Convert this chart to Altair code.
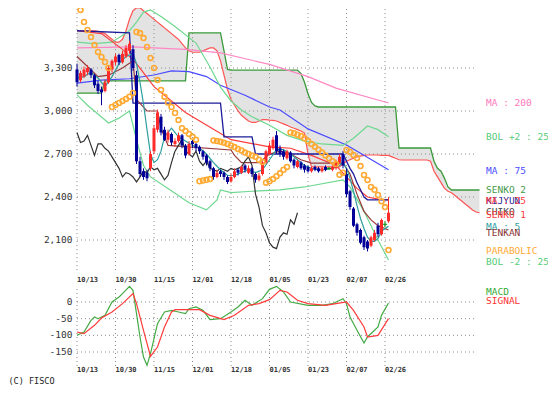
import altair as alt
import pandas as pd

# ---------------- data (index = trading day, 0 = 10/13) ----------------
date_idx = [0, 11, 22, 33, 44, 55, 66, 77, 88]
date_lbl = ["10/13", "10/30", "11/15", "12/01", "12/18", "01/05", "01/23", "02/07", "02/26"]

price_ticks = [3300, 3000, 2700, 2400, 2100]
price_lbls = ["3,300", "3,000", "2,700", "2,400", "2,100"]
macd_ticks = [0, -50, -100, -150]
macd_lbls = ["0", "-50", "-100", "-150"]

opens = [3290, 3215, 3240, 3270, 3290, 3250, 3190, 3150, 3140, 3200,
         3290, 3340, 3390, 3340, 3380, 3420, 3430, 3250, 2650, 2580,
         2570, 2600, 2720, 2870, 2960, 2870, 2800, 2840, 2770, 2790,
         2830, 2760, 2700, 2790, 2770, 2750, 2720, 2690, 2650, 2600,
         2540, 2580, 2570, 2540, 2510, 2540, 2590, 2570, 2620, 2570,
         2600, 2560, 2520, 2560, 2640, 2700, 2740, 2830, 2740, 2720,
         2670, 2710, 2660, 2610, 2640, 2620, 2610, 2580, 2610, 2600,
         2580, 2610, 2600, 2590, 2600, 2640, 2700, 2560, 2440, 2320,
         2210, 2170, 2120, 2090, 2060, 2100, 2200, 2140, 2210, 2230]
closes = [3200, 3265, 3290, 3300, 3250, 3180, 3140, 3130, 3200, 3300,
          3350, 3380, 3340, 3400, 3440, 3470, 3300, 2650, 2560, 2540,
          2530, 2700, 2880, 2990, 2850, 2800, 2850, 2780, 2790, 2830,
          2760, 2690, 2770, 2770, 2740, 2720, 2680, 2640, 2600, 2540,
          2570, 2560, 2540, 2505, 2540, 2580, 2570, 2610, 2590, 2600,
          2560, 2520, 2550, 2640, 2720, 2760, 2800, 2720, 2700, 2680,
          2720, 2650, 2620, 2650, 2600, 2590, 2580, 2600, 2590, 2580,
          2600, 2590, 2600, 2610, 2650, 2680, 2620, 2420, 2330, 2200,
          2150, 2080, 2050, 2040, 2120, 2150, 2140, 2240, 2210, 2290]
highs = [3330, 3280, 3310, 3320, 3300, 3260, 3210, 3170, 3220, 3320,
         3360, 3400, 3400, 3420, 3460, 3490, 3460, 3280, 2680, 2600,
         2590, 2720, 2900, 3010, 2980, 2890, 2870, 2850, 2810, 2850,
         2840, 2770, 2790, 2800, 2780, 2760, 2730, 2700, 2660, 2610,
         2590, 2590, 2580, 2550, 2560, 2600, 2600, 2620, 2630, 2620,
         2610, 2570, 2570, 2650, 2730, 2780, 2820, 2860, 2760, 2730,
         2730, 2720, 2670, 2660, 2650, 2630, 2620, 2610, 2620, 2610,
         2610, 2620, 2610, 2620, 2660, 2700, 2720, 2600, 2450, 2330,
         2220, 2180, 2130, 2100, 2130, 2170, 2220, 2250, 2230, 2400]
lows = [3170, 3200, 3230, 3250, 3230, 3160, 3120, 3040, 3130, 3190,
        3270, 3320, 3320, 3330, 3370, 3400, 3280, 2630, 2540, 2520,
        2510, 2580, 2700, 2850, 2830, 2790, 2780, 2760, 2750, 2780,
        2740, 2670, 2690, 2740, 2720, 2700, 2660, 2620, 2580, 2520,
        2530, 2540, 2520, 2490, 2500, 2530, 2550, 2560, 2570, 2560,
        2540, 2500, 2510, 2550, 2630, 2690, 2730, 2700, 2680, 2660,
        2660, 2640, 2600, 2600, 2590, 2570, 2570, 2570, 2580, 2570,
        2570, 2580, 2590, 2580, 2590, 2630, 2600, 2400, 2310, 2190,
        2130, 2070, 2030, 2020, 2050, 2090, 2120, 2130, 2190, 2220]

# Ichimoku cloud spans (index 0..115, shifted 26 days ahead)
senko1 = [3560, 3560, 3560, 3560, 3560, 3560, 3555, 3550, 3540, 3520,
          3500, 3480, 3480, 3500, 3560, 3640, 3700, 3720, 3720, 3700,
          3680, 3660, 3640, 3620, 3600, 3580, 3560, 3540, 3520, 3500,
          3470, 3440, 3420, 3410, 3410, 3410, 3420, 3430, 3440, 3440,
          3420, 3350, 3250, 3150, 3080, 3040, 3000, 2970, 2950, 2930,
          2920, 2920, 2930, 2940, 2940, 2937, 2935, 2930, 2920, 2910,
          2900, 2888, 2880, 2870, 2860, 2846, 2700, 2610, 2610, 2610,
          2610, 2610, 2610, 2610, 2610, 2610, 2630, 2650, 2660, 2670,
          2680, 2685, 2690, 2693, 2693, 2693, 2693, 2690, 2690, 2690,
          2680, 2670, 2660, 2658, 2658, 2658, 2658, 2658, 2658, 2658,
          2658, 2650, 2580, 2540, 2500, 2460, 2440, 2430, 2410, 2390,
          2370, 2350, 2330, 2310, 2295, 2290]
senko2 = [3125, 3125, 3125, 3125, 3125, 3125, 3125, 3125, 3210, 3210,
          3210, 3210, 3210, 3210, 3210, 3210, 3210, 3210, 3210, 3210,
          3210, 3210, 3210, 3210, 3210, 3210, 3210, 3210, 3210, 3210,
          3210, 3210, 3545, 3545, 3545, 3545, 3545, 3545, 3545, 3545,
          3545, 3545, 3420, 3290, 3285, 3285, 3285, 3285, 3285, 3285,
          3285, 3285, 3285, 3285, 3285, 3285, 3285, 3285, 3285, 3285,
          3285, 3285, 3285, 3285, 3260, 3200, 3120, 3060, 3035, 3028,
          3028, 3028, 3028, 3028, 3028, 3028, 3028, 3028, 3028, 3028,
          3028, 3028, 3028, 3028, 3028, 3028, 3028, 3028, 3028, 3028,
          3028, 3028, 2742, 2742, 2742, 2742, 2742, 2742, 2742, 2742,
          2742, 2742, 2650, 2600, 2580, 2530, 2470, 2449, 2449, 2449,
          2449, 2449, 2449, 2449, 2449, 2449]

kijun_idx = [0, 15, 16, 41, 42, 50, 51, 76, 77, 78, 79, 80, 81, 82, 83, 89]
kijun_val = [3560, 3545, 3055, 3055, 2820, 2820, 2700, 2700, 2650, 2600, 2560, 2500, 2450, 2400, 2380, 2380]

tenkan_idx = [0, 6, 9, 13, 16, 17, 20, 23, 24, 26, 44, 45, 47, 52, 55, 58, 61, 64, 67, 76, 78, 80, 82, 84, 86, 89]
tenkan_val = [3380, 3240, 3250, 3300, 3350, 3080, 3000, 3000, 2880, 2760, 2728, 2690, 2640, 2640, 2700, 2720,
              2700, 2660, 2637, 2637, 2560, 2420, 2300, 2240, 2200, 2170]

ma200_idx = [0, 16, 31, 41, 55, 66, 74, 89]
ma200_val = [3440, 3447, 3430, 3405, 3325, 3240, 3160, 3056]

ma75_idx = [0, 7, 15, 22, 27, 32, 37, 41, 48, 55, 58, 66, 77, 89]
ma75_val = [3195, 3216, 3225, 3251, 3280, 3275, 3240, 3180, 3110, 3028, 3007, 2875, 2763, 2590]

ma25_idx = [0, 7, 13, 17, 22, 31, 44, 55, 61, 67, 74, 77, 80, 83, 86, 89]
ma25_val = [3560, 3540, 3430, 3330, 3170, 2990, 2800, 2750, 2740, 2690, 2620, 2540, 2460, 2400, 2385, 2380]

ma5_idx = [0, 2, 4, 6, 8, 10, 12, 14, 16, 17, 18, 19, 20, 21, 22, 23, 24, 25, 27, 29, 31, 33, 35, 37, 39,
           41, 43, 45, 47, 49, 51, 53, 55, 57, 59, 61, 63, 65, 67, 69, 71, 73, 75, 76, 77, 78, 79, 80,
           81, 82, 83, 84, 85, 86, 87, 88, 89]
ma5_val = [3230, 3240, 3270, 3230, 3170, 3240, 3330, 3380, 3400, 3330, 3200, 3050, 2870, 2700, 2640, 2660,
           2720, 2820, 2880, 2820, 2790, 2760, 2740, 2700, 2640, 2590, 2550, 2550, 2570, 2590, 2570, 2590,
           2660, 2730, 2730, 2700, 2660, 2620, 2600, 2590, 2590, 2600, 2620, 2640, 2600, 2530, 2440, 2340,
           2250, 2180, 2120, 2090, 2090, 2110, 2160, 2180, 2195]

bolu_idx = [0, 5, 10, 15, 17, 19, 21, 24, 28, 34, 38, 41, 44, 47, 50, 55, 60, 65, 70, 76, 79, 83, 86, 89]
bolu_val = [3480, 3470, 3480, 3560, 3620, 3690, 3705, 3660, 3590, 3474, 3307, 3167, 3070, 3007, 2960, 2900,
            2830, 2790, 2770, 2760, 2810, 2895, 2870, 2820]

boll_idx = [0, 3, 7, 9, 12, 15, 17, 19, 21, 26, 32, 37, 40, 41, 44, 50, 58, 65, 76, 78, 82, 86, 89]
boll_val = [3112, 3040, 2958, 2916, 2950, 3000, 2800, 2620, 2540, 2460, 2360, 2310, 2380, 2449, 2430, 2440,
            2450, 2470, 2520, 2470, 2300, 2100, 1960]

sar_idx = list(range(1, 90))
sar_val = [3705, 3621, 3565, 3516, 3460, 3412, 3377, 3342, 3300,
           3028, 3042, 3056, 3070, 3084, 3100, 3126,
           3551, 3544, 3509, 3447, 3370, 3300, 3216, 3147, 3100, 3060, 3028, 2986, 2937, 2880, 2860, 2840,
           2820, 2800,
           2510, 2515, 2520, 2525,
           2795, 2790, 2785, 2778, 2770, 2760, 2748, 2735, 2725, 2710, 2700, 2690, 2680, 2660, 2645,
           2500, 2510, 2525, 2545, 2565, 2590, 2610,
           2850, 2845, 2835, 2825, 2810, 2790, 2770, 2750, 2730, 2710, 2690, 2670, 2650, 2630,
           2555, 2570,
           2728, 2714, 2693, 2672, 2616, 2554, 2519, 2470, 2450, 2414, 2370, 2330,
           2030]

macd_idx = [0, 2, 4, 6, 7, 9, 11, 13, 14, 16, 17, 19, 20, 21, 22, 23, 25, 27, 29, 32, 34, 35, 37, 39, 41,
            45, 48, 50, 52, 55, 58, 60, 62, 64, 67, 72, 76, 80, 83, 84, 85, 87, 90, 91, 94, 95, 97]
macd_val = [-100, -90, -55, -45, -50, -40, 0, 15, 25, 47, 35, -35, -105, -165, -190, -155, -65, -30, -25,
            -30, -35, -20, -15, -25, -53, -50, -30, -15, 5, -10, 10, 38, 47, 30, 0, -10, -10, -5, 10, -5,
            -45, -85, -123, -105, -75, -40, -3]
sig_idx = [0, 2, 5, 8, 11, 14, 17, 19, 21, 23, 25, 27, 29, 31, 34, 38, 42, 46, 49, 53, 57, 60, 63, 65, 69,
           72, 77, 81, 84, 86, 89, 91, 94, 97]
sig_val = [-90, -95, -70, -48, -30, -5, 25, -5, -85, -163, -135, -75, -30, -23, -23, -23, -40, -53, -40,
           -10, -5, 7, 35, 30, 5, -5, -10, -5, 0, -25, -75, -105, -100, -50]

# ---------------- geometry ----------------
PX = 3.5  # pixels per trading day
# MACD positions were read on a 3.208 px grid: convert to trading-day index
macd_idx = [round(v * 3.208 / PX) for v in macd_idx]
sig_idx = [round(v * 3.208 / PX) for v in sig_idx]

XS = alt.Scale(domain=[-1, 116], nice=False, zero=False)
YM = alt.Scale(domain=[1207, 3718.6], nice=False, zero=False)
YD = alt.Scale(domain=[-198, 882], nice=False, zero=False)
FONT = "DejaVu Sans Mono"


def xi(f="i"):
    return alt.X(f"{f}:Q", scale=XS, axis=None)


def ym(f="v"):
    return alt.Y(f"{f}:Q", scale=YM, axis=None)


def yd(f="v"):
    return alt.Y(f"{f}:Q", scale=YD, axis=None)


def line(idx, val, color, width=1.2, macd=False):
    df = pd.DataFrame({"i": idx, "v": val})
    return alt.Chart(df).mark_line(color=color, strokeWidth=width, clip=True).encode(
        x=xi(), y=yd() if macd else ym())


layers = []

# cloud
cloud = pd.DataFrame({"i": list(range(len(senko1))), "a": senko1, "b": senko2})
layers.append(alt.Chart(cloud).mark_area(color="#e3e3e3", opacity=1, clip=True).encode(
    x=xi(), y=ym("a"), y2=alt.Y2("b")))

# grids
GRID = dict(color="#8a8a8a", strokeDash=[1, 3], strokeWidth=1)
hg = pd.DataFrame({"v": price_ticks, "x0": 0, "x1": 114.3})
layers.append(alt.Chart(hg).mark_rule(**GRID).encode(x=xi("x0"), x2=alt.X2("x1"), y=ym()))
hd = pd.DataFrame({"v": macd_ticks, "x0": 0, "x1": 114.3})
layers.append(alt.Chart(hd).mark_rule(**GRID).encode(x=xi("x0"), x2=alt.X2("x1"), y=yd()))
vg = pd.DataFrame({"i": date_idx, "a": 1890, "b": 3718})
layers.append(alt.Chart(vg).mark_rule(**GRID).encode(x=xi(), y=ym("a"), y2=alt.Y2("b")))
vd = pd.DataFrame({"i": date_idx, "a": -192, "b": 48})
layers.append(alt.Chart(vd).mark_rule(**GRID).encode(x=xi(), y=yd("a"), y2=alt.Y2("b")))

# indicator lines
layers.append(line(list(range(len(senko2))), senko2, "#3a9a3a", 1.3))
layers.append(line(list(range(len(senko1))), senko1, "#ff5555", 1.2))
layers.append(line(ma200_idx, ma200_val, "#ff88c4", 1.2))
layers.append(line(ma75_idx, ma75_val, "#4b4bff", 1.2))
layers.append(line(bolu_idx, bolu_val, "#6fd890", 1.2))
layers.append(line(boll_idx, boll_val, "#6fd890", 1.2))
layers.append(line(ma25_idx, ma25_val, "#ff3b3b", 1.2))
layers.append(line(kijun_idx, kijun_val, "#1c1c9a", 1.3))
layers.append(line(tenkan_idx, tenkan_val, "#9a3a3a", 1.2))

candles = pd.DataFrame({"i": list(range(len(closes))), "o": opens, "c": closes, "h": highs, "l": lows})
candles["col"] = ["#ff2a2a" if c > o else ("#008a00" if c == o else "#000099") for o, c in zip(opens, closes)]
layers.append(alt.Chart(candles).transform_calculate(ci="datum.i - 26").transform_filter("datum.ci >= 0")
              .mark_line(color="#333333", strokeWidth=1.2, clip=True).encode(x=xi("ci"), y=ym("c")))
layers.append(line(ma5_idx, ma5_val, "#2f9f9f", 1.2))

layers.append(alt.Chart(candles).mark_rule(strokeWidth=1, clip=True).encode(
    x=xi(), y=ym("l"), y2=alt.Y2("h"), color=alt.Color("col:N", scale=None)))
layers.append(alt.Chart(candles).mark_rule(strokeWidth=3, clip=True).encode(
    x=xi(), y=ym("o"), y2=alt.Y2("c"), color=alt.Color("col:N", scale=None)))
layers.append(alt.Chart(candles).transform_filter("datum.o == datum.c")
              .transform_calculate(a="datum.i - 0.6", b="datum.i + 0.6")
              .mark_rule(strokeWidth=1, color="#008a00").encode(x=xi("a"), x2=alt.X2("b"), y=ym("c")))

sar = pd.DataFrame({"i": sar_idx, "v": sar_val})
layers.append(alt.Chart(sar).mark_point(shape="circle", filled=False, size=24, strokeWidth=1.6,
                                         color="#ffaa33", opacity=1, clip=True).encode(x=xi(), y=ym()))

# MACD panel
layers.append(line(macd_idx, macd_val, "#44aa44", 1.2, macd=True))
layers.append(line(sig_idx, sig_val, "#ff3b3b", 1.2, macd=True))

# axis labels
pl = pd.DataFrame({"v": price_ticks, "t": price_lbls})
layers.append(alt.Chart(pl).mark_text(align="right", baseline="middle", font=FONT, fontSize=9.5,
                                      color="#333333", dx=-1).encode(x=alt.value(0), y=ym(), text="t:N"))
ml = pd.DataFrame({"v": macd_ticks, "t": macd_lbls})
layers.append(alt.Chart(ml).mark_text(align="right", baseline="middle", font=FONT, fontSize=9.5,
                                      color="#333333", dx=-1).encode(x=alt.value(0), y=yd(), text="t:N"))
dl = pd.DataFrame({"i": date_idx, "t": date_lbl})
for yy in (271.5, 362):
    layers.append(alt.Chart(dl).mark_text(align="left", baseline="middle", font=FONT, fontSize=7,
                                          fontWeight="bold", color="#333333").encode(
        x=xi(), y=alt.value(yy), text="t:N"))

# legend labels at line ends (overlapping where the reference overlaps)
leg = pd.DataFrame({
    "t": ["MA : 200", "BOL +2 : 25", "MA : 75", "SENKO 2", "KIJYUN", "MA : 25", "CHIKO", "SENKO 1",
          "MA : 5", "TENKAN", "PARABOLIC", "BOL -2 : 25"],
    "v": [ma200_val[-1], bolu_val[-1], ma75_val[-1], senko2[-1], kijun_val[-1], ma25_val[-1], closes[-1],
          senko1[-1], ma5_val[-1], tenkan_val[-1], sar_val[-1], boll_val[-1]],
    "dy": [0, 0, 1, 0, 1, 1, -1, 2, 1, 3, 1, 2],
    "col": ["#ff77bb", "#55cc77", "#4b4bff", "#44994a", "#2a2a99", "#ff3b3b", "#444444", "#ff3b3b",
            "#2f9f9f", "#883333", "#ffaa33", "#55cc77"],
})
for k in range(len(leg)):
    row = leg.iloc[[k]]
    layers.append(alt.Chart(row).mark_text(align="left", baseline="middle", font=FONT, fontSize=9.5,
                                           dy=float(row["dy"].iloc[0])).encode(
        x=alt.value(412.5), y=ym(), text="t:N", color=alt.Color("col:N", scale=None)))
mleg = pd.DataFrame({"t": ["MACD", "SIGNAL"], "y": [284, 293], "col": ["#33aa33", "#ff3333"]})
layers.append(alt.Chart(mleg).mark_text(align="left", baseline="middle", font=FONT, fontSize=9.5).encode(
    x=alt.value(412.5), y=alt.Y("y:Q", scale=None, axis=None), text="t:N", color=alt.Color("col:N", scale=None)))
layers.append(alt.Chart(pd.DataFrame({"t": ["(C) FISCO"]})).mark_text(
    align="left", baseline="middle", font=FONT, fontSize=8.5, color="#222222").encode(
    x=alt.value(-65), y=alt.value(373), text="t:N"))

chart = alt.layer(*layers).resolve_scale(y="independent").properties(
    width=409.5, height=360,
    padding={"left": 65.5, "top": 0, "right": 65, "bottom": 17},
    autosize=alt.AutoSizeParams(type="none"),
).configure_view(stroke=None)

chart.save("out.html", embed_options={"renderer": "svg", "actions": False})
